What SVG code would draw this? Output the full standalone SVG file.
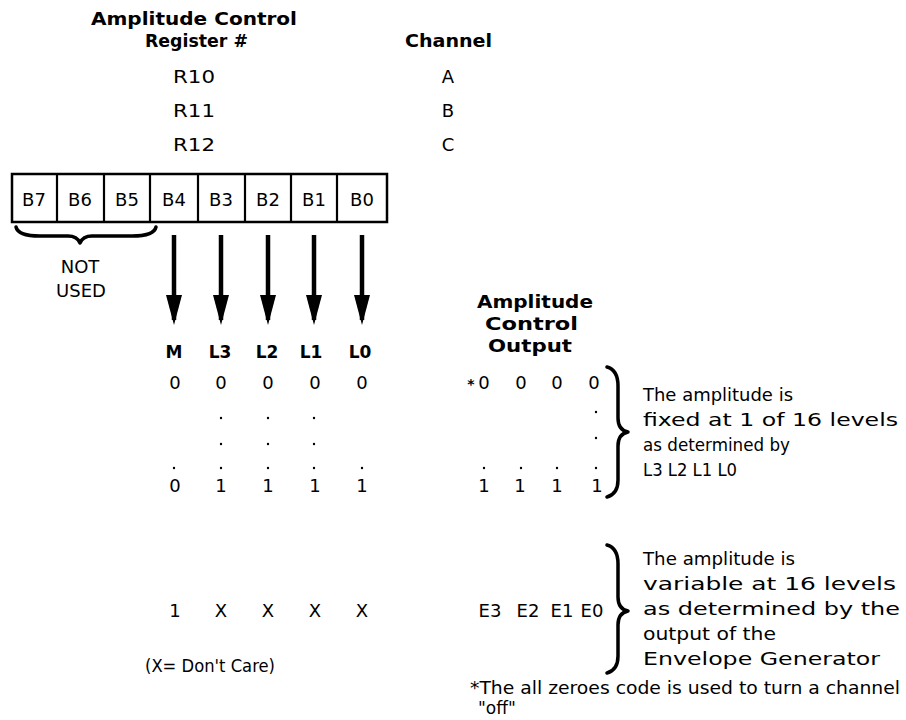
<svg xmlns="http://www.w3.org/2000/svg" width="906" height="720" viewBox="0 0 906 720">
<defs>
<style>
.b{font-family:"DejaVu Sans","Liberation Sans",sans-serif;font-weight:bold;font-size:17px;fill:#000}
.r{font-family:"DejaVu Sans","Liberation Sans",sans-serif;font-size:18px;fill:#000}
.c{text-anchor:middle}
.cell{fill:#fff;stroke:#000;stroke-width:2.5}
.br{fill:none;stroke:#000;stroke-width:3.5;stroke-linecap:round;stroke-linejoin:round}
.ar{stroke:#000;stroke-width:4.5;fill:none}
.dot{fill:#000}
</style>
<marker id="ah" markerUnits="userSpaceOnUse" markerWidth="30" markerHeight="16" refX="25" refY="8" orient="auto">
<path d="M0,0 L30,8 L0,16 z" fill="#000"/>
</marker>
</defs>
<rect width="906" height="720" fill="#fff"/>

<g id="header">
<text class="b" x="91" y="25" textLength="206" lengthAdjust="spacingAndGlyphs">Amplitude Control</text>
<text class="b" x="145" y="47" textLength="103" lengthAdjust="spacingAndGlyphs">Register #</text>
<text class="b" x="405" y="47" textLength="87" lengthAdjust="spacingAndGlyphs">Channel</text>
</g>

<g id="registers">
<text class="r" x="173" y="83" textLength="42" lengthAdjust="spacingAndGlyphs">R10</text>
<text class="r" x="173" y="117" textLength="42" lengthAdjust="spacingAndGlyphs">R11</text>
<text class="r" x="173" y="151" textLength="42" lengthAdjust="spacingAndGlyphs">R12</text>
<text class="r c" x="448" y="83">A</text>
<text class="r c" x="448" y="117">B</text>
<text class="r c" x="448" y="151">C</text>
</g>

<g id="register-box">
<rect class="cell" x="12" y="174" width="375" height="48"/>
<path d="M57,174V222M104,174V222M150,174V222M198,174V222M245,174V222M291,174V222M337,174V222" stroke="#000" stroke-width="2.2"/>
<text class="r c" x="34" y="206">B7</text>
<text class="r c" x="80" y="206">B6</text>
<text class="r c" x="127" y="206">B5</text>
<text class="r c" x="174" y="206">B4</text>
<text class="r c" x="221" y="206">B3</text>
<text class="r c" x="268" y="206">B2</text>
<text class="r c" x="314" y="206">B1</text>
<text class="r c" x="362" y="206">B0</text>
</g>

<g id="not-used">
<path class="br" d="M16,227 Q18,236 40,236 L68,236 Q77,236 80,243 Q83,236 92,236 L132,236 Q154,236 156,227"/>
<text class="r c" x="80" y="273">NOT</text>
<text class="r c" x="81" y="297">USED</text>
</g>

<g id="connectors">
<line class="ar" x1="174" y1="235" x2="174" y2="320" marker-end="url(#ah)"/>
<line class="ar" x1="221" y1="235" x2="221" y2="320" marker-end="url(#ah)"/>
<line class="ar" x1="268" y1="235" x2="268" y2="320" marker-end="url(#ah)"/>
<line class="ar" x1="314" y1="235" x2="314" y2="320" marker-end="url(#ah)"/>
<line class="ar" x1="362" y1="235" x2="362" y2="320" marker-end="url(#ah)"/>
</g>

<g id="bit-labels">
<text class="b c" x="174" y="358">M</text>
<text class="b c" x="220" y="358">L3</text>
<text class="b c" x="267" y="358">L2</text>
<text class="b c" x="311" y="358">L1</text>
<text class="b c" x="360" y="358">L0</text>
</g>

<g id="output-header">
<text class="b" x="477" y="308" textLength="116" lengthAdjust="spacingAndGlyphs">Amplitude</text>
<text class="b" x="485" y="330" textLength="93" lengthAdjust="spacingAndGlyphs">Control</text>
<text class="b" x="488" y="352" textLength="84" lengthAdjust="spacingAndGlyphs">Output</text>
</g>

<g id="row-zero">
<text class="r c" x="175" y="389">0</text>
<text class="r c" x="221" y="389">0</text>
<text class="r c" x="268" y="389">0</text>
<text class="r c" x="315" y="389">0</text>
<text class="r c" x="362" y="389">0</text>
<text class="b c" x="471" y="389" style="font-size:14px">*</text>
<text class="r c" x="484" y="389">0</text>
<text class="r c" x="521" y="389">0</text>
<text class="r c" x="557" y="389">0</text>
<text class="r c" x="594" y="389">0</text>
</g>

<g id="ellipsis">
<circle class="dot" cx="221" cy="418" r="1.2"/>
<circle class="dot" cx="268" cy="418" r="1.2"/>
<circle class="dot" cx="314" cy="418" r="1.2"/>
<circle class="dot" cx="221" cy="444" r="1.2"/>
<circle class="dot" cx="268" cy="444" r="1.2"/>
<circle class="dot" cx="314" cy="444" r="1.2"/>
<circle class="dot" cx="174" cy="468" r="1.2"/>
<circle class="dot" cx="221" cy="468" r="1.2"/>
<circle class="dot" cx="268" cy="468" r="1.2"/>
<circle class="dot" cx="314" cy="468" r="1.2"/>
<circle class="dot" cx="362" cy="468" r="1.2"/>
<circle class="dot" cx="484" cy="468" r="1.2"/>
<circle class="dot" cx="521" cy="468" r="1.2"/>
<circle class="dot" cx="557" cy="468" r="1.2"/>
<circle class="dot" cx="596" cy="468" r="1.2"/>
<circle class="dot" cx="596" cy="412" r="1.2"/>
<circle class="dot" cx="596" cy="438" r="1.2"/>
</g>

<g id="row-max">
<text class="r c" x="175" y="492">0</text>
<text class="r c" x="221" y="492">1</text>
<text class="r c" x="268" y="492">1</text>
<text class="r c" x="315" y="492">1</text>
<text class="r c" x="362" y="492">1</text>
<text class="r c" x="484" y="492">1</text>
<text class="r c" x="520" y="492">1</text>
<text class="r c" x="557" y="492">1</text>
<text class="r c" x="597" y="492">1</text>
</g>

<g id="fixed-note">
<path class="br" d="M607,367 Q618,370 618,386 L618,418 Q618,430 628,432 Q618,434 618,446 L618,480 Q618,494 607,497"/>
<text class="r" x="643" y="401" textLength="150" lengthAdjust="spacingAndGlyphs">The amplitude is</text>
<text class="r" x="643" y="426" textLength="255" lengthAdjust="spacingAndGlyphs">fixed at 1 of 16 levels</text>
<text class="r" x="643" y="451" textLength="147" lengthAdjust="spacingAndGlyphs">as determined by</text>
<text class="r" x="643" y="476" textLength="94" lengthAdjust="spacingAndGlyphs">L3 L2 L1 L0</text>
</g>

<g id="row-env">
<text class="r c" x="175" y="617">1</text>
<text class="r c" x="221" y="617">X</text>
<text class="r c" x="268" y="617">X</text>
<text class="r c" x="315" y="617">X</text>
<text class="r c" x="362" y="617">X</text>
<text class="r c" x="490" y="617">E3</text>
<text class="r c" x="528" y="617">E2</text>
<text class="r c" x="562" y="617">E1</text>
<text class="r c" x="592" y="617">E0</text>
</g>

<g id="envelope-note">
<path class="br" d="M607,545 Q618,548 618,564 L618,597 Q618,609 628,611 Q618,613 618,625 L618,656 Q618,670 607,673"/>
<text class="r" x="643" y="565" textLength="152" lengthAdjust="spacingAndGlyphs">The amplitude is</text>
<text class="r" x="643" y="590" textLength="253" lengthAdjust="spacingAndGlyphs">variable at 16 levels</text>
<text class="r" x="643" y="615" textLength="257" lengthAdjust="spacingAndGlyphs">as determined by the</text>
<text class="r" x="643" y="640" textLength="133" lengthAdjust="spacingAndGlyphs">output of the</text>
<text class="r" x="643" y="665" textLength="237" lengthAdjust="spacingAndGlyphs">Envelope Generator</text>
</g>

<g id="legend">
<text class="r" x="145" y="672" textLength="130" lengthAdjust="spacingAndGlyphs">(X= Don't Care)</text>
</g>

<g id="footnote">
<text class="r" x="470" y="694" textLength="430" lengthAdjust="spacingAndGlyphs" style="font-size:17px">*The all zeroes code is used to turn a channel</text>
<text class="r" x="478" y="714" style="font-size:17px">"off"</text>
</g>
</svg>
